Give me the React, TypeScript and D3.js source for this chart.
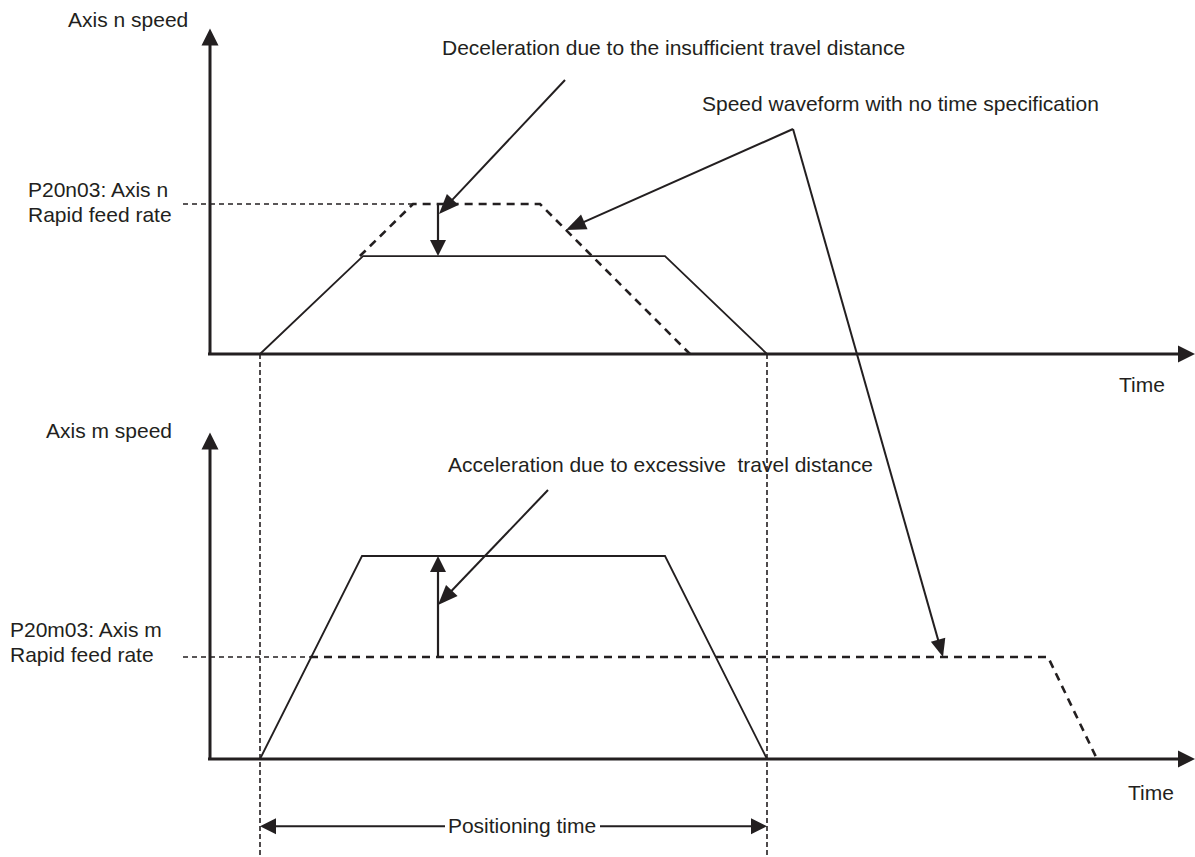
import React from "react";
import * as d3 from "d3";

// ---- data (time units, speed in % of rapid feed rate) ----
const timeDomain = [0, 98.5];
const positioningTimes = [5.0, 55.7]; // start, end of positioning time

// Axis n (top panel)
const axisNSolidT = [5.0, 15.3, 45.5, 55.7];
const axisNSolidV = [0, 65.3, 65.3, 0];
const axisNDashT = [5.0, 20.3, 33.0, 48.0];
const axisNDashV = [0, 100, 100, 0];
const axisNTop = 217;

// Axis m (bottom panel)
const axisMSolidT = [5.0, 15.2, 45.5, 55.7];
const axisMSolidV = [0, 199, 199, 0];
const axisMDashT = [5.0, 10.0, 83.8, 88.7];
const axisMDashV = [0, 100, 100, 0];
const axisMTop = 320;

const rapidRate = 100;
const rapidLineStart = -2.7;

// annotation anchors [t, v]
const decelCallout = { from: [35.5, 182.7], to: [22.9, 93.3] };
const accelCallout = { from: [33.8, 263.7], to: [22.8, 151] };
const noSpecApex = [58.3, 150];
const noSpecTipTop = [35.6, 82.7];
const noSpecTipBottom = [73.3, 100];
const decelArrowT = 22.8;
const accelArrowT = 22.8;
const positioningLevel = -66; // bottom-panel units below the time axis

const labels = {
  axisN: "Axis n speed",
  axisM: "Axis m speed",
  rapidN: ["P20n03: Axis n", "Rapid feed rate"],
  rapidM: ["P20m03: Axis m", "Rapid feed rate"],
  time: "Time",
  decel: "Deceleration due to the insufficient travel distance",
  accel: "Acceleration due to excessive  travel distance",
  noSpec: "Speed waveform with no time specification",
  positioning: "Positioning time",
};

const W = 1195;
const H = 857;
const INK = "#231f20";
const FONT = "'Liberation Sans', Arial, Helvetica, sans-serif";

const x = d3.scaleLinear().domain(timeDomain).range([210, 1195]);
const yN = d3.scaleLinear().domain([0, 100]).range([354, 204]);
const yM = d3.scaleLinear().domain([0, 100]).range([759, 657]);

function head(x1: number, y1: number, x2: number, y2: number, len: number, hw: number) {
  const dx = x2 - x1, dy = y2 - y1;
  const d = Math.hypot(dx, dy);
  const ux = dx / d, uy = dy / d;
  const bx = x2 - ux * len, by = y2 - uy * len;
  const px = -uy, py = ux;
  return `${x2},${y2} ${bx + px * hw},${by + py * hw} ${bx - px * hw},${by - py * hw}`;
}

function Arrow({ x1, y1, x2, y2, sw = 2, len = 20, hw = 8 }: any) {
  const d = Math.hypot(x2 - x1, y2 - y1);
  const ex = x2 - ((x2 - x1) / d) * (len - 2);
  const ey = y2 - ((y2 - y1) / d) * (len - 2);
  return (
    <g>
      <line x1={x1} y1={y1} x2={ex} y2={ey} stroke={INK} strokeWidth={sw} />
      <polygon points={head(x1, y1, x2, y2, len, hw)} fill={INK} />
    </g>
  );
}

// start the dashed waveform where it separates from the solid one
function dashedPath(tArr: number[], vArr: number[], solidPlateau: number, y: any) {
  const level = Math.min(solidPlateau, rapidRate);
  const t0 = tArr[0] + ((tArr[1] - tArr[0]) * level) / (vArr[1] - vArr[0]);
  const pts: [number, number][] = [[t0, level]];
  for (let i = 1; i < tArr.length; i++) pts.push([tArr[i], vArr[i]]);
  return d3.line<[number, number]>().x((p) => x(p[0])).y((p) => y(p[1]))(pts) as string;
}

function Panel({ y, solidT, solidV, dashT, dashV, top, rapidLbl, axisLbl, lblPos }: any) {
  const solid = d3.line<number>().x((_, i) => x(solidT[i])).y((_, i) => y(solidV[i]))(solidT) as string;
  const y0 = y(0);
  const yTop = y(top);
  const rapidY = y(rapidRate);
  return (
    <g>
      <line x1={x(rapidLineStart)} y1={rapidY} x2={x(dashT[1])} y2={rapidY}
        stroke={INK} strokeWidth={1.6} strokeDasharray="5,4" />
      <line x1={x(0)} y1={y0} x2={x(0)} y2={yTop + 15} stroke={INK} strokeWidth={3} />
      <polygon points={head(x(0), y0, x(0), yTop, 17, 8.5)} fill={INK} />
      <line x1={x(0) - 2} y1={y0} x2={x(timeDomain[1]) - 15} y2={y0} stroke={INK} strokeWidth={3} />
      <polygon points={head(x(0), y0, x(timeDomain[1]), y0, 17, 8.5)} fill={INK} />
      <path d={solid} fill="none" stroke={INK} strokeWidth={1.8} />
      <path d={dashedPath(dashT, dashV, solidV[1], y)} fill="none" stroke={INK}
        strokeWidth={2.6} strokeDasharray="8,6" />
      <text x={lblPos.axis[0]} y={lblPos.axis[1]}>{axisLbl}</text>
      <text x={lblPos.rapid[0]} y={lblPos.rapid[1]}>{rapidLbl[0]}</text>
      <text x={lblPos.rapid[0]} y={lblPos.rapid[1] + 25}>{rapidLbl[1]}</text>
      <text x={lblPos.time[0]} y={lblPos.time[1]}>{labels.time}</text>
    </g>
  );
}

export default function App() {
  const posY = yM(positioningLevel);
  const apex = [x(noSpecApex[0]), yN(noSpecApex[1])];
  const posMid = 522;
  return (
    <svg width={W} height={H} style={{ position: "absolute", left: 0, top: 0, background: "#fff" }}
      fontFamily={FONT} fontSize={21} fill={INK}>
      <rect x={0} y={0} width={W} height={H} fill="#fff" />
      {positioningTimes.map((t, i) => (
        <line key={i} x1={x(t)} y1={yN(0)} x2={x(t)} y2={H} stroke={INK} strokeWidth={1.6} strokeDasharray="5,3" />
      ))}

      <Panel y={yN} solidT={axisNSolidT} solidV={axisNSolidV} dashT={axisNDashT} dashV={axisNDashV}
        top={axisNTop} rapidLbl={labels.rapidN} axisLbl={labels.axisN}
        lblPos={{ axis: [68, 27], rapid: [28, 197], time: [1119, 392] }} />
      <Panel y={yM} solidT={axisMSolidT} solidV={axisMSolidV} dashT={axisMDashT} dashV={axisMDashV}
        top={axisMTop} rapidLbl={labels.rapidM} axisLbl={labels.axisM}
        lblPos={{ axis: [46, 438], rapid: [10, 637], time: [1128, 800] }} />

      <Arrow x1={x(decelArrowT)} y1={yN(rapidRate)} x2={x(decelArrowT)} y2={yN(axisNSolidV[1])} sw={2.2} len={16} hw={8} />
      <Arrow x1={x(accelArrowT)} y1={yM(rapidRate)} x2={x(accelArrowT)} y2={yM(axisMSolidV[1])} sw={2.2} len={16} hw={8} />

      <Arrow x1={x(decelCallout.from[0])} y1={yN(decelCallout.from[1])} x2={x(decelCallout.to[0])} y2={yN(decelCallout.to[1])} />
      <Arrow x1={x(accelCallout.from[0])} y1={yM(accelCallout.from[1])} x2={x(accelCallout.to[0])} y2={yM(accelCallout.to[1])} />
      <Arrow x1={apex[0]} y1={apex[1]} x2={x(noSpecTipTop[0])} y2={yN(noSpecTipTop[1])} />
      <Arrow x1={apex[0]} y1={apex[1]} x2={x(noSpecTipBottom[0])} y2={yM(noSpecTipBottom[1])} len={18} hw={7.5} />

      <text x={442} y={55}>{labels.decel}</text>
      <text x={448} y={472} style={{ whiteSpace: "pre" }}>{labels.accel}</text>
      <text x={702} y={111}>{labels.noSpec}</text>

      <Arrow x1={posMid - 77} y1={posY} x2={x(positioningTimes[0])} y2={posY} len={16} hw={8} />
      <Arrow x1={posMid + 78} y1={posY} x2={x(positioningTimes[1])} y2={posY} len={16} hw={8} />
      <text x={posMid} y={posY + 7} textAnchor="middle">{labels.positioning}</text>
    </svg>
  );
}
